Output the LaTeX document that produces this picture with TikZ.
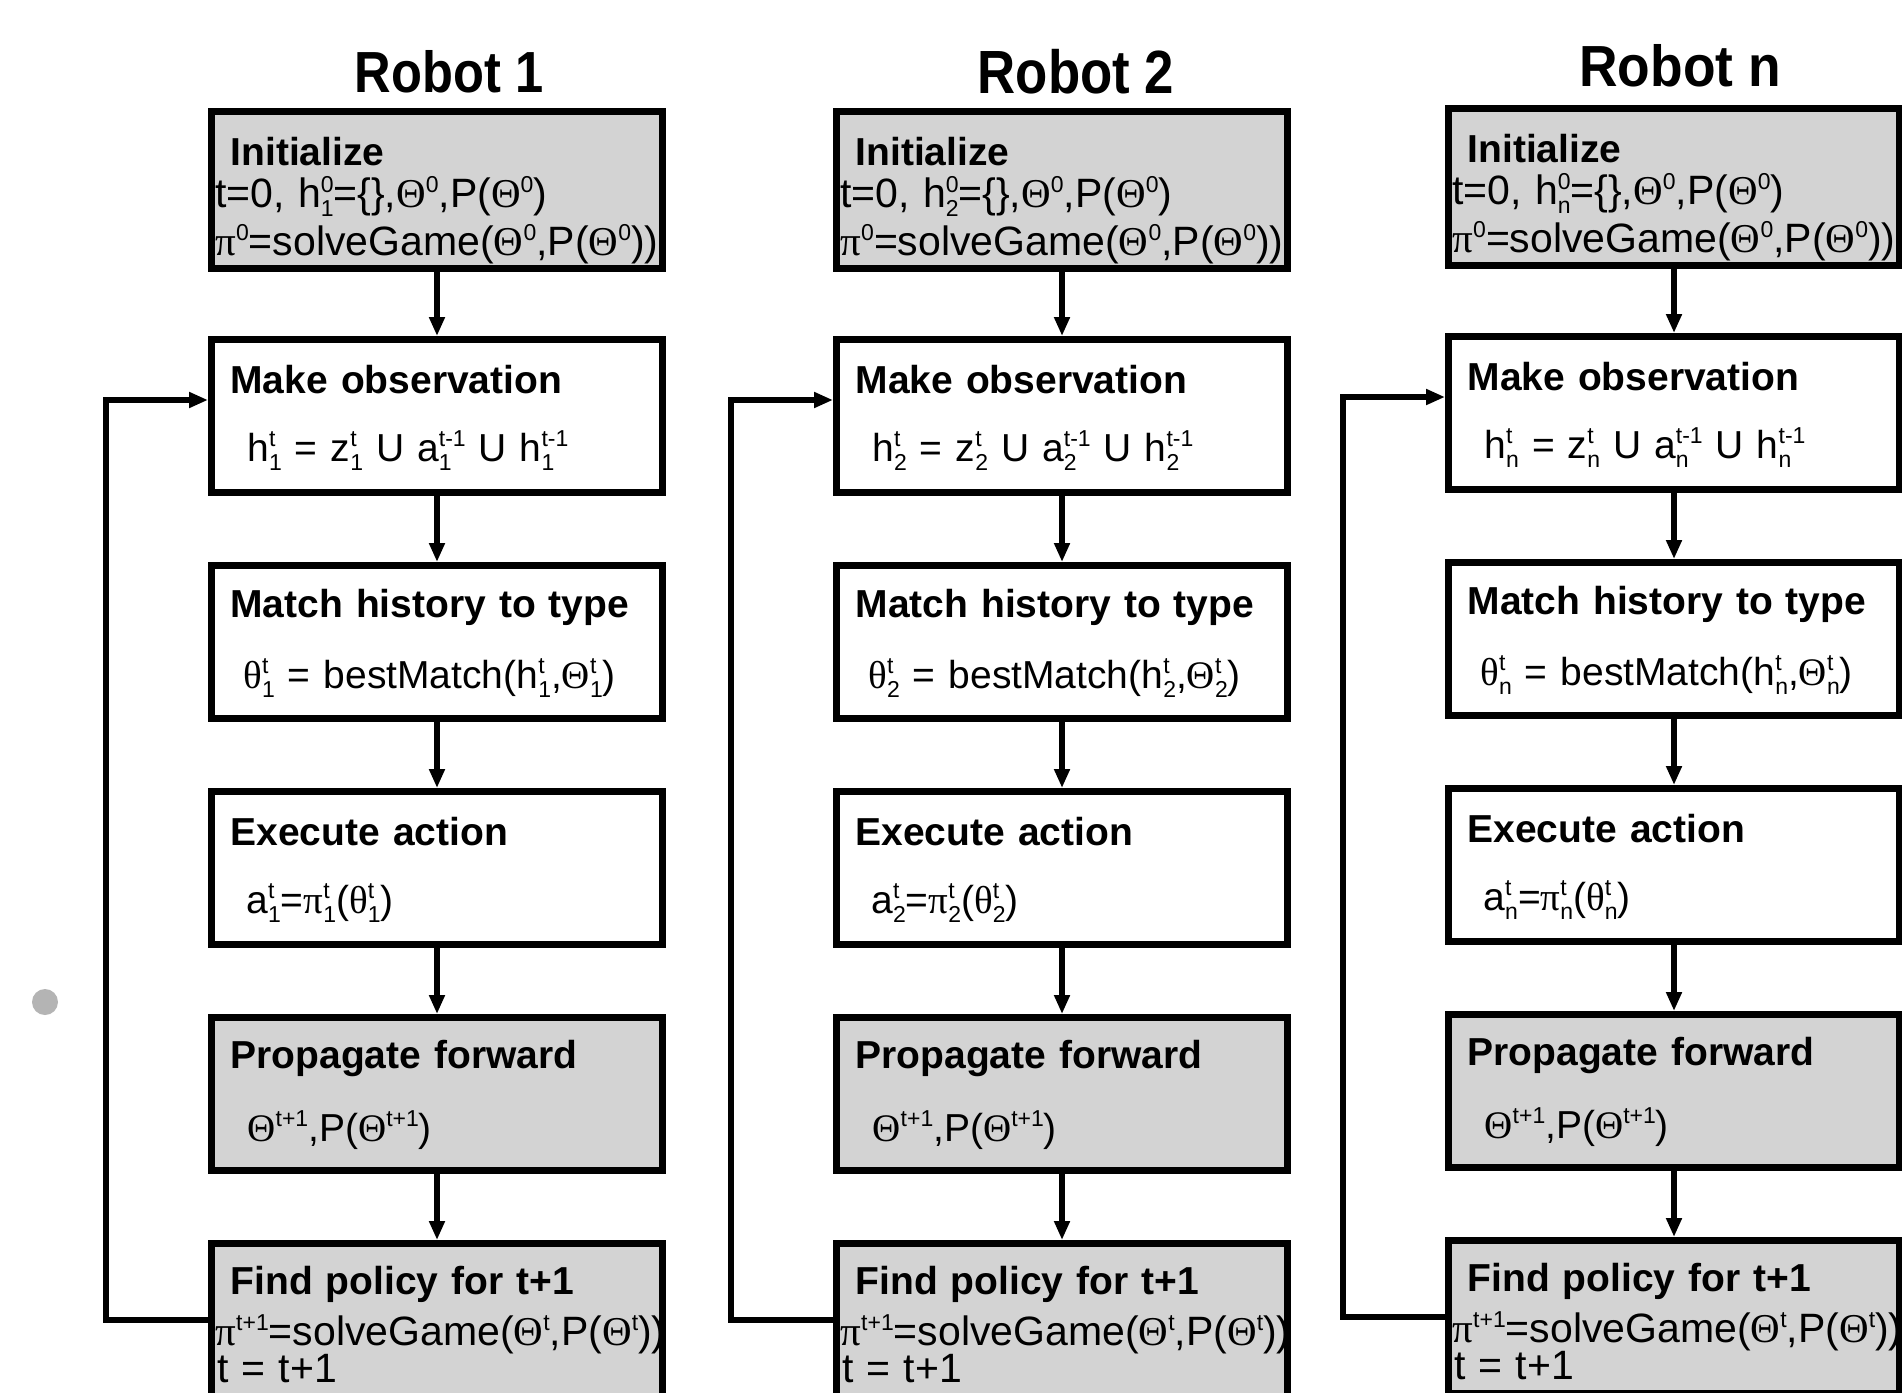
\documentclass[tikz,border=0pt]{standalone}
\usepackage{fontspec}
\setmainfont{Liberation Sans}
\newfontfamily\gk{Liberation Serif}
\usetikzlibrary{arrows.meta,calc}
\definecolor{boxgray}{RGB}{211,211,211}
\definecolor{dotgray}{RGB}{180,180,180}
\newcommand\Th{{\gk Θ}}
\newcommand\thG{{\gk θ}}
\newcommand\piG{{\gk π}}
\newcommand\stk[2]{{\fontsize{23}{23}\selectfont\setbox0=\hbox{\raisebox{-9pt}{#1}}\setbox2=\hbox{\raisebox{15pt}{#2}}\ifdim\wd0>\wd2 \rlap{\box2}\box0\else\rlap{\box0}\box2\fi}}
\newcommand\supr[1]{{\fontsize{23}{23}\selectfont\raisebox{15pt}{#1}}}
\newcommand\topstrut{\rule{0pt}{50pt}}
\newcommand\topstrutI{\rule{0pt}{54pt}}
\newcommand\botstrutA{\rule[-13pt]{0pt}{13pt}}
\newcommand\botstrutB{\rule[-28pt]{0pt}{28pt}}
\newcommand\lgfont{\fontsize{41}{36}\selectfont}
\lineskiplimit=-100pt
\tikzset{
  box/.style={draw, line width=7pt, rectangle, inner xsep=0pt, inner ysep=0pt,
    text width=451pt, minimum height=153pt, align=left,
    font=\fontsize{39}{36}\selectfont, anchor=center},
  gbox/.style={box, fill=boxgray},
  wbox/.style={box, fill=white},
  flow/.style={line width=6.5pt, -{Triangle[length=19pt,width=15pt]}},
  robottitle/.style={anchor=base, inner sep=0pt, font=\fontsize{58}{58}\selectfont\bfseries}
}
\begin{document}
\lineskiplimit=-100pt
\begin{tikzpicture}[x=1pt,y=-1pt]
\fill[white] (0,0) rectangle (1902,1392);
\useasboundingbox (0,0) rectangle (1902,1392);
\node[circle, fill=dotgray, minimum size=26pt, inner sep=0pt] (dot) at (45,1002) {};
\foreach \i/\xc/\yc/\s/\tx/\ty/\sx/\sy in {1/437/190/1/449/92/0.873/1, 2/1062/190/2/1076/93/0.91/1.052, 3/1674/187/n/1680/86/0.92/1} {
  \node[robottitle] (t\i) at (\tx,\ty) {\scalebox{\sx}[\sy]{Robot \s}};
  \node[gbox] (in\i) at (\xc,\yc) {\hspace*{19pt}\topstrutI\textbf{Initialize}\\[6pt]
    \hspace*{4pt}{\lgfont t=0, h\stk{\s}{0}=\{\},\Th\supr{0},P(\Th\supr{0})}\\[6pt]
    \hspace*{4pt}{\lgfont \piG\supr{0}=solveGame(\Th\supr{0},P(\Th\supr{0}))}\botstrutA};
  \node[wbox] (mo\i) at (\xc,\yc+226) {\hspace*{19pt}\topstrut\textbf{Make observation}\\[32pt]
    \hspace*{36pt}h\stk{\s}{t} = z\stk{\s}{t} U a\stk{\s}{t-1} U h\stk{\s}{t-1}\botstrutB};
  \node[wbox] (mh\i) at (\xc,\yc+452) {\hspace*{19pt}\topstrut\textbf{Match history to type}\\[32pt]
    \hspace*{32pt}\thG\stk{\s}{t} = bestMatch(h\stk{\s}{t},\Th\stk{\s}{t})\botstrutB};
  \node[wbox] (ex\i) at (\xc,\yc+678) {\hspace*{19pt}\topstrut\textbf{Execute action}\\[32pt]
    \hspace*{35pt}a\stk{\s}{t}=\piG\stk{\s}{t}(\thG\stk{\s}{t})\botstrutB};
  \node[gbox] (pf\i) at (\xc,\yc+904) {\hspace*{19pt}\topstrut\textbf{Propagate forward}\\[32pt]
    \hspace*{36pt}\Th\supr{t+1},P(\Th\supr{t+1})\botstrutB};
  \node[gbox] (fp\i) at (\xc,\yc+1130) {\hspace*{19pt}\topstrut\textbf{Find policy for t+1}\\[11pt]
    \hspace*{4pt}{\lgfont \piG\supr{t+1}=solveGame(\Th\supr{t},P(\Th\supr{t}))}\\
    \hspace*{6pt}{\lgfont t = t+1}\botstrutA};
  \draw[flow] (in\i) -- (mo\i);
  \draw[flow] (mo\i) -- (mh\i);
  \draw[flow] (mh\i) -- (ex\i);
  \draw[flow] (ex\i) -- (pf\i);
  \draw[flow] (pf\i) -- (fp\i);
  \draw[flow] (fp\i.west) -- ++(-102,0) |- ([yshift=16pt]mo\i.west);
}
\end{tikzpicture}
\end{document}
